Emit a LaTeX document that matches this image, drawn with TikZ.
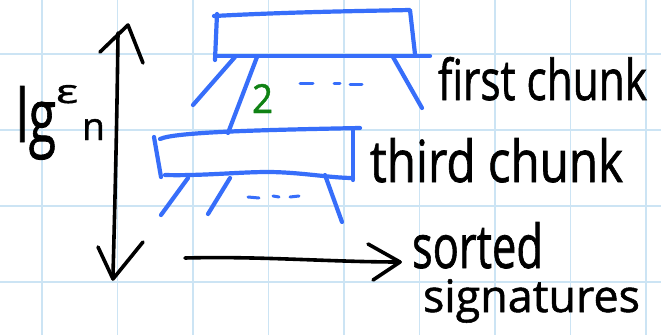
\documentclass[tikz,border=0pt]{standalone}
\usepackage{graphicx}
\usepackage{fontspec}
\setmainfont{Open Sans}
\newfontfamily\handfont[FakeBold=1.2]{Open Sans}
\definecolor{gridc}{RGB}{204,228,244}
\definecolor{penblue}{RGB}{55,110,250}
\definecolor{pengreen}{RGB}{15,130,20}
\tikzset{
  gridline/.style={gridc, line width=1.8pt},
  bluepen/.style={penblue, line width=4.2pt, line cap=round, line join=round},
  blackpen/.style={black, line width=3.6pt, line cap=round, line join=round},
  dashpen/.style={penblue, line width=3pt, line cap=round},
  hand/.style={anchor=base west, inner sep=0pt, outer sep=0pt, font=\handfont},
}
\begin{document}
\begin{tikzpicture}[x=1pt,y=-1pt]
\useasboundingbox (0,0) rectangle (661,335);
\fill[white] (0,0) rectangle (661,335);
% grid
\foreach \gx in {42,117.5,193,268.5,344,419.5,495,570.5,646}
  \draw[gridline] (\gx,0) -- (\gx,335);
\foreach \gy in {54,130,206,282}
  \draw[gridline] (0,\gy) -- (661,\gy);

% left vertical double arrow
\coordinate (vtop) at (118,33);
\coordinate (vtip) at (128,25);
\coordinate (vbot) at (113,275);
\coordinate (vbtip) at (113,279);
\draw[blackpen] (vtop) .. controls (117,120) and (115,200) .. (vbot);
\draw[blackpen] (100,52) -- (vtip) -- (143,63);
\draw[blackpen] (98,247) -- (vbtip) -- (143,242);

% horizontal arrow
\coordinate (hs) at (185,258);
\coordinate (ht) at (400,262);
\draw[blackpen] (hs) .. controls (260,256) and (330,262) .. (ht);
\draw[blackpen] (368,244) -- (ht) -- (373,280);

% top chunk rectangle
\draw[bluepen] (217,14) -- (215,60);
\draw[bluepen] (214,16) .. controls (290,12) and (360,11) .. (410,10) -- (415,54);
\draw[bluepen] (215,56) -- (430,56);
% top trapezoid legs
\draw[bluepen] (235,57) -- (193,105);
\draw[bluepen] (257,57) -- (228,133);
\draw[bluepen] (393,57) -- (422,108);
\draw[dashpen] (300,83) -- (313,83);
\draw[dashpen] (334,83) -- (340,83);
\draw[dashpen] (350,84) -- (362,84);

% middle (third chunk) rectangle
\draw[bluepen] (154,137) -- (161,177);
\draw[bluepen] (160,139) .. controls (175,132) and (260,130) .. (360,128);
\draw[bluepen] (353,129) -- (353,180);
\draw[bluepen] (165,175) .. controls (200,176) and (240,172) .. (267,172) .. controls (300,172) and (330,178) .. (353,178);
\draw[bluepen] (188,178) -- (161,215);
\draw[bluepen] (230,178) -- (208,214);
\draw[bluepen] (325,175) -- (342,222);
\draw[dashpen] (248,197) -- (259,198);
\draw[dashpen] (273,196) -- (279,197);
\draw[dashpen] (290,197) -- (299,196);

% labels
\node[hand, text=pengreen] (two) at (252,113) {\resizebox{21pt}{29pt}{2}};
\node[hand] (lg) at (16,142) {\resizebox{40pt}{56pt}{lg}};
\node[hand] (eps) at (56,103) {\resizebox{22pt}{18pt}{ε}};
\node[hand] (nn) at (82,140) {\resizebox{23pt}{21pt}{n}};
\node[hand] (first) at (438,100) {\resizebox{209pt}{43pt}{first chunk}};
\node[hand] (third) at (370,182) {\resizebox{253pt}{44pt}{third chunk}};
\node[hand] (sorted) at (412,268) {\resizebox{131pt}{46pt}{sorted}};
\node[hand] (sig) at (423,312) {\resizebox{217pt}{!}{signatures}};
\end{tikzpicture}
\end{document}
